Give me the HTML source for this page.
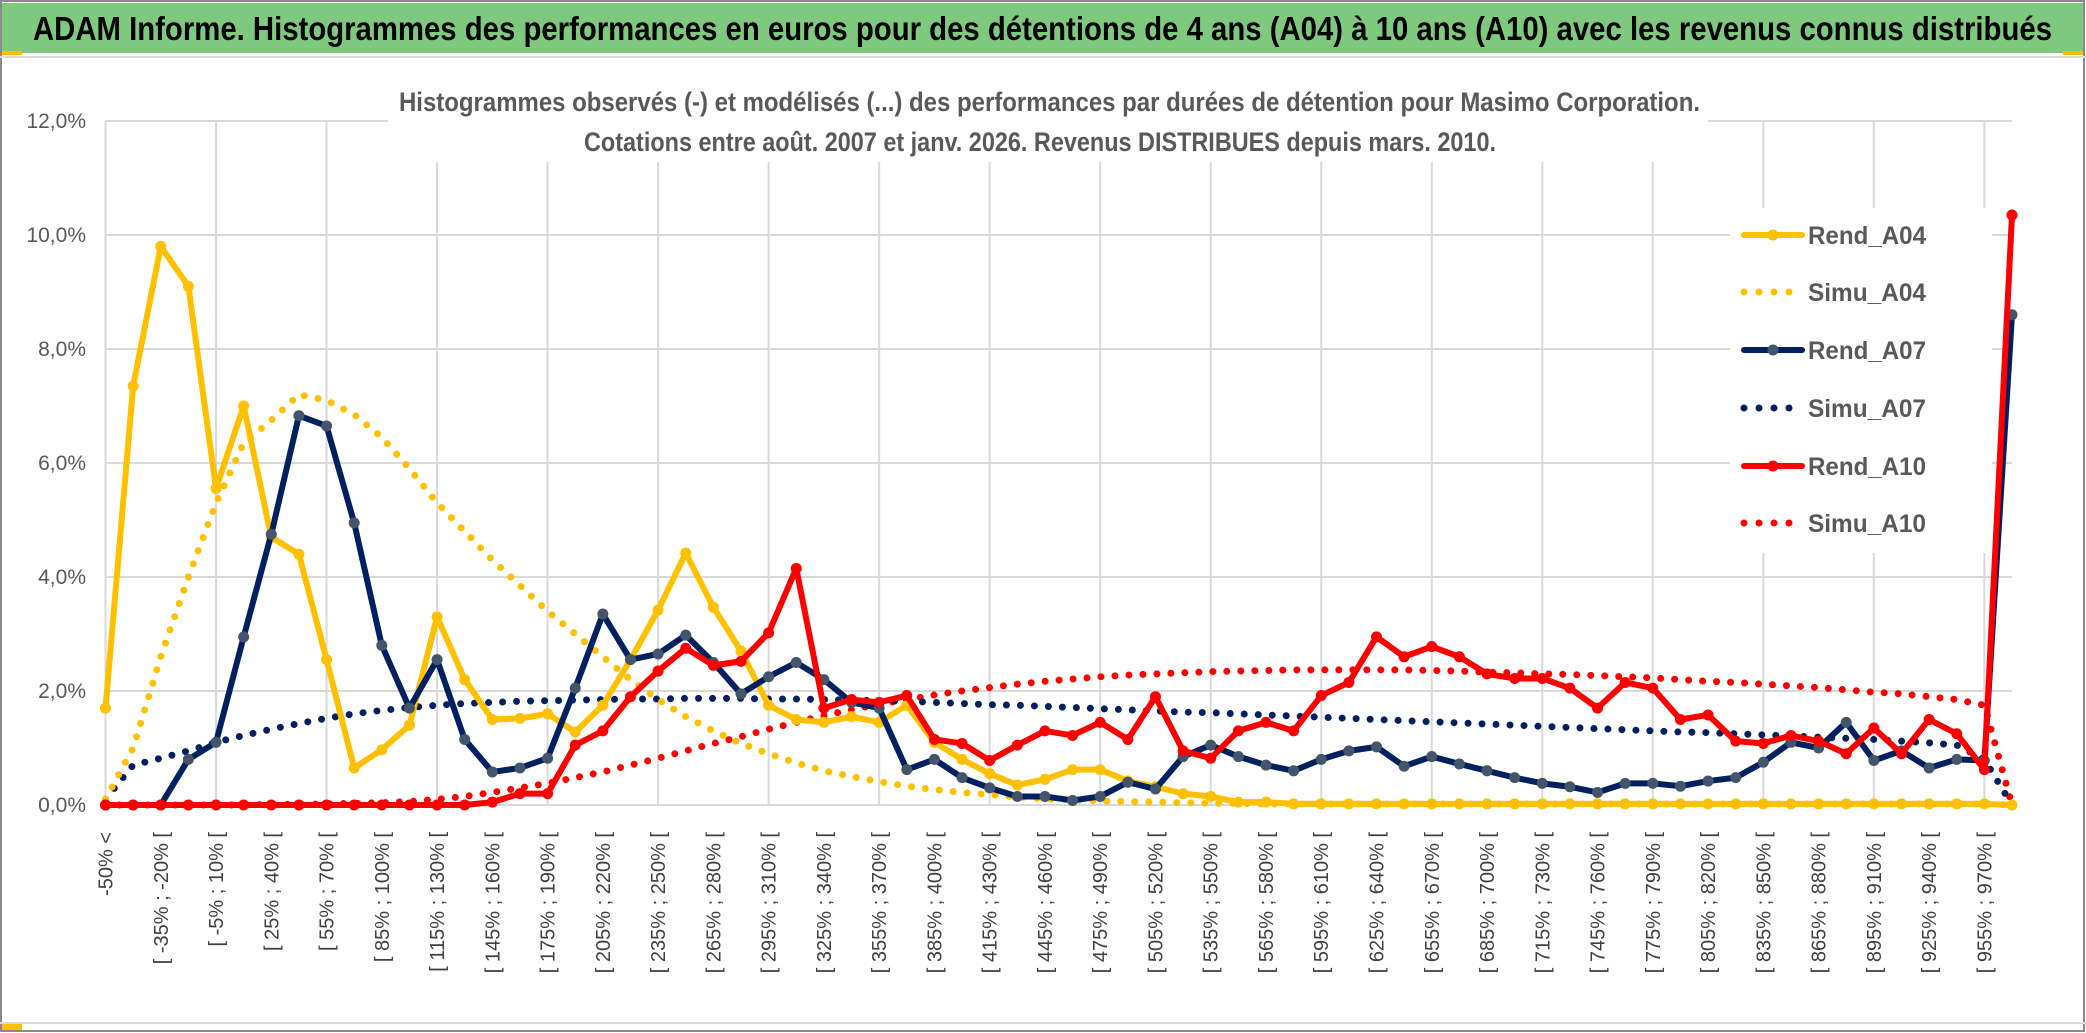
<!DOCTYPE html>
<html><head><meta charset="utf-8"><style>
html,body{margin:0;padding:0;background:#fff;}
svg{display:block;font-family:"Liberation Sans",sans-serif;}
</style></head><body>
<svg id="chart" width="2086" height="1033" viewBox="0 0 2086 1033" xmlns="http://www.w3.org/2000/svg">
<rect x="0" y="0" width="2086" height="1033" fill="#fff"/>
<rect x="1" y="1" width="2083" height="1030" fill="none" stroke="#8a8a8a" stroke-width="2"/>
<rect x="2" y="3" width="2081" height="50" fill="#7fc97f"/>
<rect x="2" y="51" width="20" height="4" fill="#ffc000"/>
<rect x="2063" y="51" width="20" height="4" fill="#ffc000"/>
<line x1="0" y1="57" x2="2086" y2="57" stroke="#d9d9d9" stroke-width="2"/>
<line x1="0" y1="1023" x2="2086" y2="1023" stroke="#d9d9d9" stroke-width="2"/>
<rect x="2" y="1024" width="20" height="6" fill="#ffc000"/>
<text x="33" y="40" font-size="33" font-weight="bold" fill="#000" textLength="2019" lengthAdjust="spacingAndGlyphs">ADAM Informe. Histogrammes des performances en euros pour des détentions de 4 ans (A04) à 10 ans (A10) avec les revenus connus distribués</text>
<g id="grid"></g>
<rect x="388" y="80" width="1320" height="82" fill="#fff"/>
<text x="399" y="111" font-size="27" font-weight="bold" fill="#595959" textLength="1301" lengthAdjust="spacingAndGlyphs">Histogrammes observés (-) et modélisés (...) des performances par durées de détention pour Masimo Corporation.</text>
<text x="584" y="151" font-size="27" font-weight="bold" fill="#595959" textLength="912" lengthAdjust="spacingAndGlyphs">Cotations entre août. 2007 et janv. 2026. Revenus DISTRIBUES depuis mars. 2010.</text>
<g id="yaxis"></g>
<g id="xaxis"></g>
<g id="series"></g>
<g id="legend"></g>
</svg>
<script>
const yTicks = [0, 2, 4, 6, 8, 10, 12];
const rendA04 = [1.7,7.35,9.8,9.1,5.55,7.0,4.7,4.4,2.55,0.65,0.97,1.4,3.3,2.2,1.5,1.52,1.6,1.28,1.75,2.55,3.42,4.42,3.47,2.7,1.75,1.5,1.45,1.55,1.45,1.75,1.1,0.8,0.55,0.35,0.45,0.62,0.62,0.42,0.32,0.2,0.15,0.05,0.05,0.02,0.02,0.02,0.02,0.02,0.02,0.02,0.02,0.02,0.02,0.02,0.02,0.02,0.02,0.02,0.02,0.02,0.02,0.02,0.02,0.02,0.02,0.02,0.02,0.02,0.02,0];
const simuA04 = [0.1,1.0,2.6,4.0,5.3,6.35,6.75,7.2,7.1,6.85,6.45,5.9,5.3,4.8,4.3,3.85,3.4,3.0,2.6,2.2,1.85,1.55,1.3,1.08,0.9,0.74,0.6,0.5,0.41,0.33,0.27,0.22,0.18,0.14,0.11,0.09,0.07,0.06,0.05,0.04,0.03,0.03,0.02,0.02,0.02,0.02,0.02,0.02,0.02,0.02,0.02,0.02,0.02,0.02,0.02,0.02,0.02,0.02,0.02,0.02,0.02,0.02,0.02,0.02,0.02,0.02,0.02,0.02,0.02,0];
const rendA07 = [0,0,0,0.8,1.1,2.95,4.75,6.83,6.65,4.95,2.8,1.7,2.55,1.15,0.58,0.65,0.82,2.05,3.35,2.55,2.65,2.98,2.5,1.95,2.25,2.5,2.2,1.8,1.7,0.62,0.8,0.48,0.3,0.15,0.15,0.08,0.15,0.4,0.28,0.85,1.05,0.85,0.7,0.6,0.8,0.95,1.02,0.68,0.85,0.72,0.6,0.48,0.38,0.32,0.22,0.38,0.38,0.33,0.42,0.48,0.75,1.1,1.0,1.45,0.78,0.95,0.65,0.8,0.78,8.6];
const simuA07 = [0.1,0.7,0.82,0.95,1.1,1.22,1.33,1.43,1.52,1.6,1.66,1.71,1.75,1.78,1.8,1.82,1.83,1.84,1.85,1.86,1.86,1.87,1.87,1.87,1.86,1.86,1.85,1.84,1.83,1.82,1.8,1.78,1.76,1.75,1.73,1.71,1.69,1.67,1.65,1.63,1.62,1.6,1.58,1.56,1.54,1.52,1.5,1.48,1.46,1.44,1.42,1.4,1.38,1.36,1.34,1.32,1.3,1.28,1.27,1.25,1.23,1.21,1.19,1.17,1.15,1.12,1.09,1.05,0.8,0];
const rendA10 = [0,0,0,0,0,0,0,0,0,0,0,0,0,0,0.05,0.2,0.2,1.05,1.3,1.9,2.35,2.75,2.45,2.52,3.02,4.15,1.7,1.85,1.8,1.92,1.15,1.08,0.78,1.05,1.3,1.22,1.45,1.15,1.9,0.95,0.82,1.3,1.45,1.3,1.92,2.15,2.95,2.6,2.78,2.6,2.3,2.22,2.22,2.05,1.7,2.15,2.05,1.5,1.58,1.12,1.08,1.22,1.12,0.9,1.35,0.9,1.5,1.25,0.62,10.35];
const simuA10 = [0,0,0,0,0,0,0.01,0.01,0.02,0.03,0.04,0.06,0.1,0.15,0.22,0.3,0.38,0.48,0.58,0.7,0.82,0.95,1.08,1.2,1.33,1.45,1.57,1.67,1.77,1.85,1.93,2.0,2.06,2.12,2.17,2.21,2.25,2.28,2.3,2.32,2.34,2.35,2.36,2.37,2.37,2.37,2.37,2.37,2.36,2.35,2.33,2.32,2.3,2.29,2.27,2.25,2.23,2.2,2.17,2.15,2.12,2.09,2.06,2.02,1.98,1.95,1.9,1.85,1.75,0];
const categories = ["-50% <"];
for (let k = 1; k < 70; k++) { categories.push("[ " + (-50 + 15*(k-1)) + "% ; " + (-35 + 15*(k-1)) + "% ["); }

const NS = "http://www.w3.org/2000/svg";
const X0 = 105.5, X1 = 2012, Y0 = 805, YTOP = 121, YMAX = 12;
function xPos(i){ return X0 + (X1 - X0) * i / (categories.length - 1); }
function yPos(v){ return Y0 - (Y0 - YTOP) * v / YMAX; }
function mk(tag, attrs, parent){ const e = document.createElementNS(NS, tag); for (const k in attrs) e.setAttribute(k, attrs[k]); parent.appendChild(e); return e; }

const grid = document.getElementById('grid');
yTicks.forEach(t => {
  const l = mk('line', {x1:X0, x2:X1, y1:yPos(t), y2:yPos(t), stroke:'#d9d9d9', 'stroke-width':2}, grid);
  
  
});
for (let i = 0; i < categories.length; i += 4) {
  const l = mk('line', {x1:xPos(i), x2:xPos(i), y1:YTOP, y2:Y0, stroke:'#d9d9d9', 'stroke-width':2}, grid);
  
  
}
const yaxis = document.getElementById('yaxis');
yTicks.forEach(t => {
  const tx = mk('text', {x:86, y:yPos(t)+7, 'text-anchor':'end', 'font-size':21, fill:'#595959'}, yaxis);
  tx.textContent = t.toFixed(1).replace('.', ',') + '%';
  
  
});
const xaxis = document.getElementById('xaxis');
for (let i = 0; i < categories.length; i += 2) {
  const x = xPos(i) + 7, y = 832;
  const tx = mk('text', {x:x, y:y, 'text-anchor':'end', 'font-size':20, fill:'#404040', transform:'rotate(-90 '+x+' '+y+')'}, xaxis);
  tx.textContent = categories[i];
  
  
}

const seriesG = document.getElementById('series');
function drawSimu(vals, color, name){
  const p = mk('polyline', {points: vals.map((v,i)=>xPos(i)+','+yPos(v)).join(' '), fill:'none', stroke:color, 'stroke-width':7, 'stroke-linecap':'round', 'stroke-dasharray':'0 14'}, seriesG);
  
  
}
function drawRend(vals, color, markerColor, name){
  const g = mk('g', {}, seriesG);
  
  
  mk('polyline', {points: vals.map((v,i)=>xPos(i)+','+yPos(v)).join(' '), fill:'none', stroke:color, 'stroke-width':6, 'stroke-linejoin':'round'}, g);
  vals.forEach((v,i) => {
    const c = mk('circle', {cx:xPos(i), cy:yPos(v), r:5.5, fill:markerColor}, g);
    
    
  });
}
drawSimu(simuA10, '#ff0000', 'simu-a10-line');
drawSimu(simuA07, '#002060', 'simu-a07-line');
drawSimu(simuA04, '#ffc000', 'simu-a04-line');
drawRend(rendA04, '#ffc000', '#ffc000', 'rend-a04-line');
drawRend(rendA07, '#002060', '#44546a', 'rend-a07-line');
drawRend(rendA10, '#ff0000', '#ff0000', 'rend-a10-line');

const legend = document.getElementById('legend');
const lg = mk('rect', {x:1730, y:208, width:262, height:345, fill:'#fff'}, legend);


const legItems = [['Rend_A04','#ffc000','#ffc000',false],['Simu_A04','#ffc000','',true],['Rend_A07','#002060','#44546a',false],['Simu_A07','#002060','',true],['Rend_A10','#ff0000','#ff0000',false],['Simu_A10','#ff0000','',true]];
const legY = [235, 292, 350, 408, 466, 523];
legItems.forEach((it, k) => {
  const g = mk('g', {}, legend);
  
  
  const y = legY[k];
  if (it[3]) {
    mk('line', {x1:1744, x2:1802, y1:y, y2:y, stroke:it[1], 'stroke-width':7, 'stroke-linecap':'round', 'stroke-dasharray':'0 15'}, g);
  } else {
    mk('line', {x1:1744, x2:1802, y1:y, y2:y, stroke:it[1], 'stroke-width':6, 'stroke-linecap':'round'}, g);
    mk('circle', {cx:1773, cy:y, r:5.5, fill:it[2]}, g);
  }
  const t = mk('text', {x:1808, y:y+9, 'font-size':25, 'font-weight':'bold', fill:'#595959', textLength:118, lengthAdjust:'spacingAndGlyphs'}, g);
  t.textContent = it[0];
});
</script>
</body></html>
